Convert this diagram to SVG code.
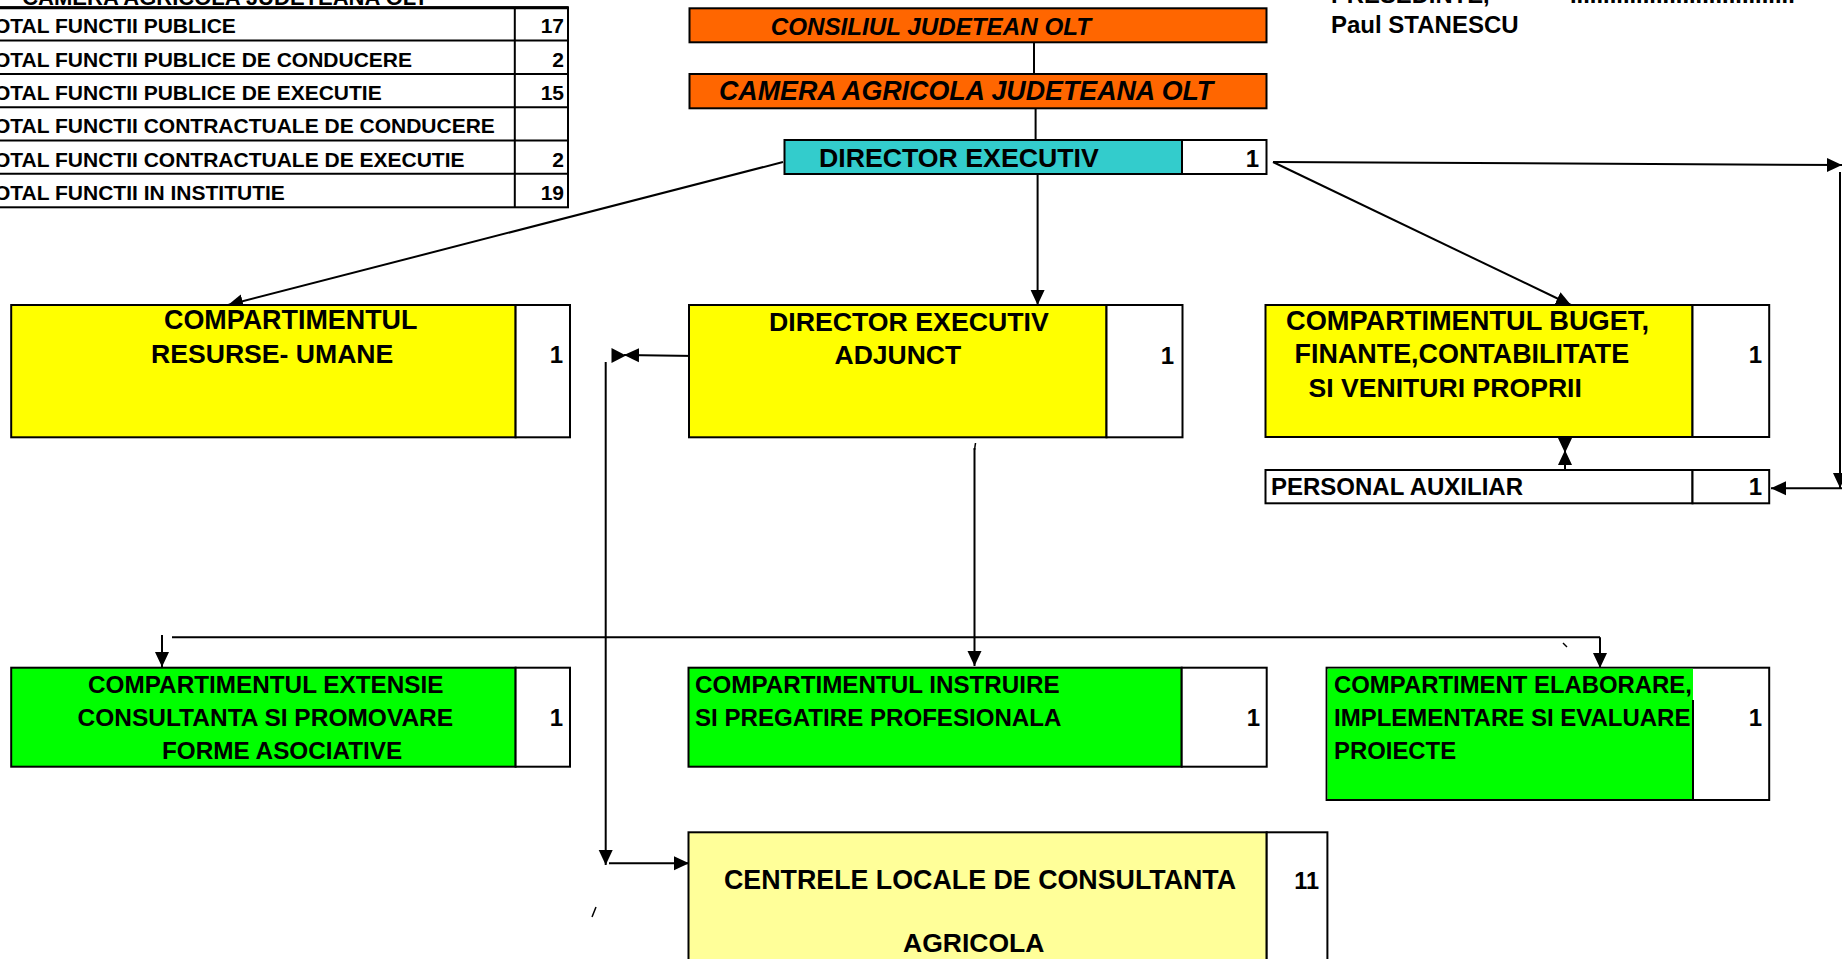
<svg xmlns="http://www.w3.org/2000/svg" width="1842" height="959" viewBox="0 0 1842 959">
<defs>
<style>
.t{font-family:"Liberation Sans",Arial,sans-serif;font-weight:bold;fill:#000}
.i{font-style:italic}
.b{stroke:#000;stroke-width:2}
.w{fill:#fff}
.or{fill:#FF6600}
.cy{fill:#33CCCC}
.ye{fill:#FFFF00}
.gr{fill:#00FF00}
.ly{fill:#FFFF99}
.e{text-anchor:end}
#connectors line{stroke:#000;stroke-width:2;fill:none}
</style>
<marker id="ah" markerUnits="userSpaceOnUse" markerWidth="16" markerHeight="16" viewBox="0 0 16 16" refX="15" refY="8" orient="auto">
<path d="M0,1 L15,8 L0,15 z" fill="#000"/>
</marker>
</defs>
<rect x="0" y="0" width="1842" height="959" fill="#fff"/>

<!-- cut-off header texts -->
<g id="header">
<text class="t e" x="428" y="4.5" font-size="22">CAMERA AGRICOLA JUDETEANA OLT</text>
<text class="t" x="1331" y="3" font-size="23.8">PRESEDINTE,</text>
<text class="t" x="1570" y="3" font-size="23.8">..................................</text>
<text class="t" x="1331" y="33.3" font-size="24">Paul STANESCU</text>
</g>

<!-- summary table -->
<g id="summary-table">
<rect x="-10" y="7.3" width="578" height="200" class="w b"/>
<line x1="-10" y1="7.8" x2="568" y2="7.8" stroke="#000" stroke-width="3"/>
<g stroke="#000" stroke-width="2">
<line x1="-10" y1="40.6" x2="568" y2="40.6"/>
<line x1="-10" y1="73.9" x2="568" y2="73.9"/>
<line x1="-10" y1="107.2" x2="568" y2="107.2"/>
<line x1="-10" y1="140.5" x2="568" y2="140.5"/>
<line x1="-10" y1="173.8" x2="568" y2="173.8"/>
<line x1="514.8" y1="7.3" x2="514.8" y2="207.3"/>
</g>
<g class="t" font-size="21">
<text x="-18.5" y="33.3">TOTAL FUNCTII PUBLICE</text>
<text x="-18.5" y="66.6">TOTAL FUNCTII PUBLICE DE CONDUCERE</text>
<text x="-18.5" y="99.9">TOTAL FUNCTII PUBLICE DE EXECUTIE</text>
<text x="-18.5" y="133.2">TOTAL FUNCTII CONTRACTUALE DE CONDUCERE</text>
<text x="-18.5" y="166.5">TOTAL FUNCTII CONTRACTUALE DE EXECUTIE</text>
<text x="-18.5" y="199.8">TOTAL FUNCTII IN INSTITUTIE</text>
<text class="e" x="564" y="33.3">17</text>
<text class="e" x="564" y="66.6">2</text>
<text class="e" x="564" y="99.9">15</text>
<text class="e" x="564" y="166.5">2</text>
<text class="e" x="564" y="199.8">19</text>
</g>
</g>

<!-- connectors -->
<g id="connectors">
<line x1="1034" y1="42.3" x2="1034" y2="74"/>
<line x1="1035.6" y1="108.3" x2="1035.6" y2="140"/>
<line x1="1037.6" y1="174" x2="1037.6" y2="305" marker-end="url(#ah)"/>
<line x1="783" y1="162" x2="228" y2="305" marker-end="url(#ah)"/>
<line x1="1273" y1="162" x2="1571" y2="305" marker-end="url(#ah)"/>
<line x1="1273" y1="162" x2="1842" y2="165" marker-end="url(#ah)"/>
<line x1="1840" y1="172" x2="1840" y2="488" marker-end="url(#ah)"/>
<line x1="1842" y1="488.3" x2="1771" y2="488.3" marker-end="url(#ah)"/>
<line x1="1565" y1="437" x2="1565" y2="453" marker-end="url(#ah)"/>
<line x1="1565" y1="470" x2="1565" y2="450" marker-end="url(#ah)"/>
<line x1="696" y1="356" x2="624" y2="355" marker-end="url(#ah)"/>
<polygon points="611.5,348 626,355.5 611.5,363" fill="#000"/>
<line x1="605.7" y1="362" x2="605.7" y2="865" marker-end="url(#ah)"/>
<line x1="609" y1="863.3" x2="689" y2="863.3" marker-end="url(#ah)"/>
<line x1="974.5" y1="448" x2="974.5" y2="666" marker-end="url(#ah)"/>
<line x1="172" y1="637.3" x2="1600" y2="637.3"/>
<line x1="1600" y1="637.3" x2="1600" y2="668" marker-end="url(#ah)"/>
<line x1="162" y1="635" x2="162" y2="667" marker-end="url(#ah)"/>
<g>
<line x1="975.5" y1="443" x2="974.5" y2="450" style="stroke-width:1.5"/>
<line x1="1563" y1="643" x2="1567" y2="647" style="stroke-width:1.5"/>
<line x1="596" y1="907" x2="592" y2="917" style="stroke-width:1.5"/>
</g>
</g>

<!-- nodes -->
<g id="consiliul-judetean">
<rect x="689.5" y="8.3" width="577" height="34" class="or b"/>
<text class="t i" x="770.7" y="35" font-size="24.2">CONSILIUL JUDETEAN OLT</text>
</g>

<g id="camera-agricola">
<rect x="689.5" y="74" width="577" height="34.3" class="or b"/>
<text class="t i" x="719" y="100" font-size="26.8">CAMERA AGRICOLA JUDETEANA OLT</text>
</g>

<g id="director-executiv">
<rect x="784.5" y="140" width="397.5" height="34" class="cy b"/>
<rect x="1182" y="140" width="84.5" height="34" class="w b"/>
<text class="t" x="819" y="166.7" font-size="26.7">DIRECTOR EXECUTIV</text>
<text class="t e" x="1259" y="166.7" font-size="24">1</text>
</g>

<g id="comp-resurse-umane">
<rect x="11.2" y="305" width="504.4" height="132.3" class="ye b"/>
<rect x="515.6" y="305" width="54.4" height="132.3" class="w b"/>
<text class="t" x="164" y="329.3" font-size="26.9">COMPARTIMENTUL</text>
<text class="t" x="151" y="362.7" font-size="26.6">RESURSE- UMANE</text>
<text class="t e" x="563" y="362.7" font-size="24">1</text>
</g>

<g id="director-executiv-adjunct">
<rect x="689" y="305" width="417.5" height="132.3" class="ye b"/>
<rect x="1106.5" y="305" width="76" height="132.3" class="w b"/>
<text class="t" x="769" y="331" font-size="26.7">DIRECTOR EXECUTIV</text>
<text class="t" x="834.5" y="364" font-size="26.5">ADJUNCT</text>
<text class="t e" x="1174" y="364" font-size="24">1</text>
</g>

<g id="comp-buget">
<rect x="1265.5" y="305" width="427" height="132" class="ye b"/>
<rect x="1692.5" y="305" width="76.7" height="132" class="w b"/>
<text class="t" x="1286" y="330" font-size="27.2">COMPARTIMENTUL BUGET,</text>
<text class="t" x="1294.6" y="363.3" font-size="26.9">FINANTE,CONTABILITATE</text>
<text class="t" x="1308.5" y="396.7" font-size="26.6">SI VENITURI PROPRII</text>
<text class="t e" x="1762" y="363.3" font-size="24">1</text>
</g>

<g id="personal-auxiliar">
<rect x="1265.5" y="470" width="427" height="33.3" class="w b"/>
<rect x="1692.5" y="470" width="76.7" height="33.3" class="w b"/>
<text class="t" x="1271" y="495" font-size="24">PERSONAL AUXILIAR</text>
<text class="t e" x="1762" y="495" font-size="24">1</text>
</g>

<g id="comp-extensie">
<rect x="11.2" y="667.7" width="504.4" height="99" class="gr b"/>
<rect x="515.6" y="667.7" width="54.4" height="99" class="w b"/>
<text class="t" x="88" y="692.7" font-size="24.3">COMPARTIMENTUL EXTENSIE</text>
<text class="t" x="77.5" y="726" font-size="24.5">CONSULTANTA SI PROMOVARE</text>
<text class="t" x="162" y="759.3" font-size="24.3">FORME ASOCIATIVE</text>
<text class="t e" x="563" y="726" font-size="24">1</text>
</g>

<g id="comp-instruire">
<rect x="688.5" y="667.7" width="493.2" height="99" class="gr b"/>
<rect x="1181.7" y="667.7" width="85" height="99" class="w b"/>
<text class="t" x="695" y="692.7" font-size="24.2">COMPARTIMENTUL INSTRUIRE</text>
<text class="t" x="695" y="726" font-size="24.1">SI PREGATIRE PROFESIONALA</text>
<text class="t e" x="1260" y="726" font-size="24">1</text>
</g>

<g id="comp-elaborare">
<rect x="1326.6" y="667.7" width="442.6" height="132.3" class="w b"/>
<rect x="1327.6" y="668.7" width="365.4" height="130.3" class="gr"/>
<line x1="1693" y1="700" x2="1693" y2="800" stroke="#000" stroke-width="2"/>
<text class="t" x="1334" y="692.7" font-size="23.9">COMPARTIMENT ELABORARE,</text>
<text class="t" x="1334" y="726" font-size="24">IMPLEMENTARE SI EVALUARE</text>
<text class="t" x="1334" y="759.3" font-size="23.9">PROIECTE</text>
<text class="t e" x="1762" y="726" font-size="24">1</text>
</g>

<g id="centrele-locale">
<rect x="688.5" y="832.3" width="578.2" height="140" class="ly b"/>
<rect x="1266.7" y="832.3" width="60.7" height="140" class="w b"/>
<text class="t" x="724" y="889.3" font-size="26.8">CENTRELE LOCALE DE CONSULTANTA</text>
<text class="t" x="903" y="951.7" font-size="26.5">AGRICOLA</text>
<text class="t e" x="1319" y="889.3" font-size="23.5">11</text>
</g>
</svg>
